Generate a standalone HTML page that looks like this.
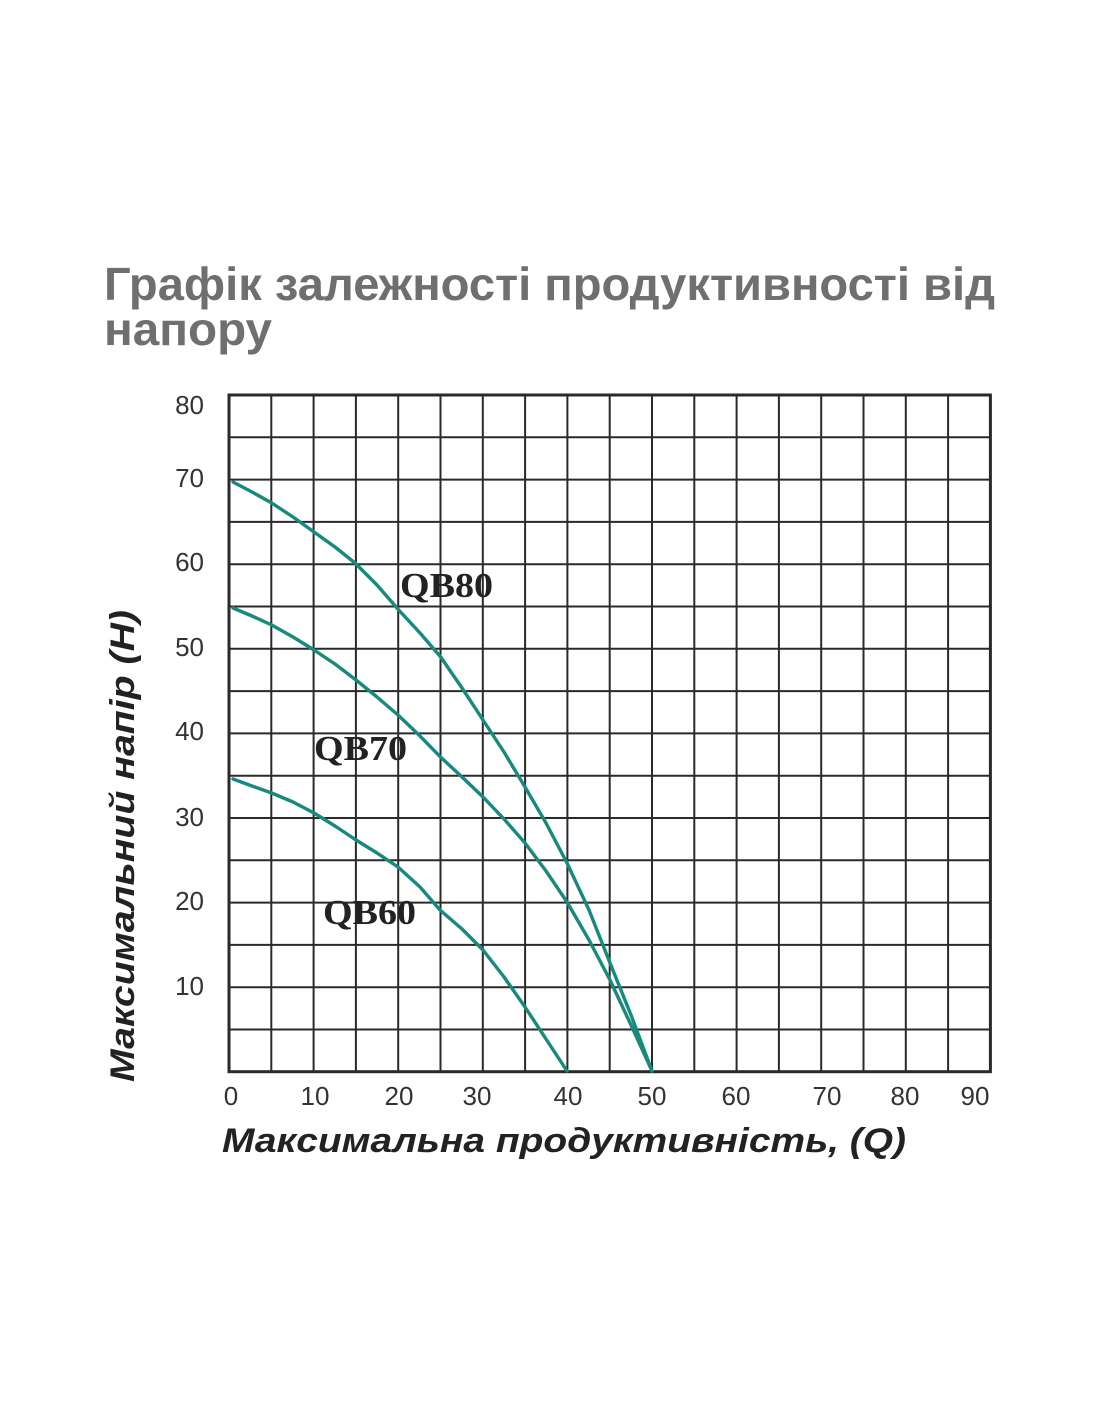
<!DOCTYPE html>
<html><head><meta charset="utf-8"><style>
html,body{margin:0;padding:0;background:#fff;}
svg{display:block;}
</style></head><body>
<svg width="1100" height="1422" viewBox="0 0 1100 1422" xmlns="http://www.w3.org/2000/svg">
<g font-family="'Liberation Sans', 'DejaVu Sans', sans-serif" font-weight="bold" fill="#6f6f6f" font-size="46">
<text x="104" y="300" textLength="891" lengthAdjust="spacingAndGlyphs">Графік залежності продуктивності від</text>
<text x="104" y="345" textLength="168" lengthAdjust="spacingAndGlyphs">напору</text>
</g>
<g stroke="#2a2a2a" stroke-width="2" fill="none">
<path d="M271.3 395V1071.7M313.6 395V1071.7M355.9 395V1071.7M398.2 395V1071.7M440.5 395V1071.7M482.8 395V1071.7M525.1 395V1071.7M567.4 395V1071.7M609.7 395V1071.7M652 395V1071.7M694.3 395V1071.7M736.6 395V1071.7M778.9 395V1071.7M821.2 395V1071.7M863.5 395V1071.7M905.8 395V1071.7M948.1 395V1071.7"/>
<path d="M229 437.3H990.4M229 479.6H990.4M229 521.9H990.4M229 564.2H990.4M229 606.5H990.4M229 648.8H990.4M229 691.1H990.4M229 733.4H990.4M229 775.7H990.4M229 818H990.4M229 860.3H990.4M229 902.6H990.4M229 944.9H990.4M229 987.2H990.4M229 1029.5H990.4"/>
<rect x="229" y="395" width="761.4" height="676.7" stroke-width="3"/>
</g>
<g stroke="#178a7c" stroke-width="3.4" fill="none" stroke-linejoin="round" stroke-linecap="round">
<polyline points="233,482 252,492 271.7,503 293,517 314,532 335,547 355,563 377,585 398.7,610 420,633 440.7,657 462,688 483,720 504,752 525,787 546,823 567,863 589,910 610,963 631,1015 652,1071"/>
<polyline points="233,608 252,616 271.7,625 293,637 314,650 335,664 356,680 377,697 398,715 420,736 440.5,757 462,777 483,797 504,819 525,843 546,871 567,902 589,940 610,980 631,1025 652,1071"/>
<polyline points="233,779 252,786 271.7,793 293,802 314,813 335,826 356,840 377,853 398,867 420,887 440,910 462,929 483,950 504,977 525,1007 546,1039 567,1071"/>
</g>
<g font-family="'Liberation Serif', serif" font-weight="bold" font-size="35" fill="#222">
<text x="400" y="597" textLength="93" lengthAdjust="spacingAndGlyphs">QB80</text>
<text x="314" y="760" textLength="93" lengthAdjust="spacingAndGlyphs">QB70</text>
<text x="323" y="924" textLength="93" lengthAdjust="spacingAndGlyphs">QB60</text>
</g>
<g font-family="'Liberation Sans', sans-serif" font-size="26" fill="#333" text-anchor="end">
<text x="204" y="414">80</text>
<text x="204" y="487">70</text>
<text x="204" y="571">60</text>
<text x="204" y="656">50</text>
<text x="204" y="740">40</text>
<text x="204" y="826">30</text>
<text x="204" y="910">20</text>
<text x="204" y="995">10</text>
</g>
<g font-family="'Liberation Sans', sans-serif" font-size="26" fill="#333" text-anchor="middle">
<text x="231" y="1105">0</text>
<text x="315" y="1105">10</text>
<text x="399" y="1105">20</text>
<text x="477" y="1105">30</text>
<text x="568" y="1105">40</text>
<text x="652" y="1105">50</text>
<text x="736" y="1105">60</text>
<text x="827" y="1105">70</text>
<text x="905" y="1105">80</text>
<text x="975" y="1105">90</text>
</g>
<g font-family="'Liberation Sans', sans-serif" font-weight="bold" font-style="italic" font-size="34" fill="#222">
<text x="222" y="1152" textLength="684" lengthAdjust="spacingAndGlyphs">Максимальна продуктивність, (Q)</text>
<text transform="translate(134,1082) rotate(-90)" x="0" y="0" textLength="472" lengthAdjust="spacingAndGlyphs">Максимальний напір (H)</text>
</g>
</svg>
</body></html>
